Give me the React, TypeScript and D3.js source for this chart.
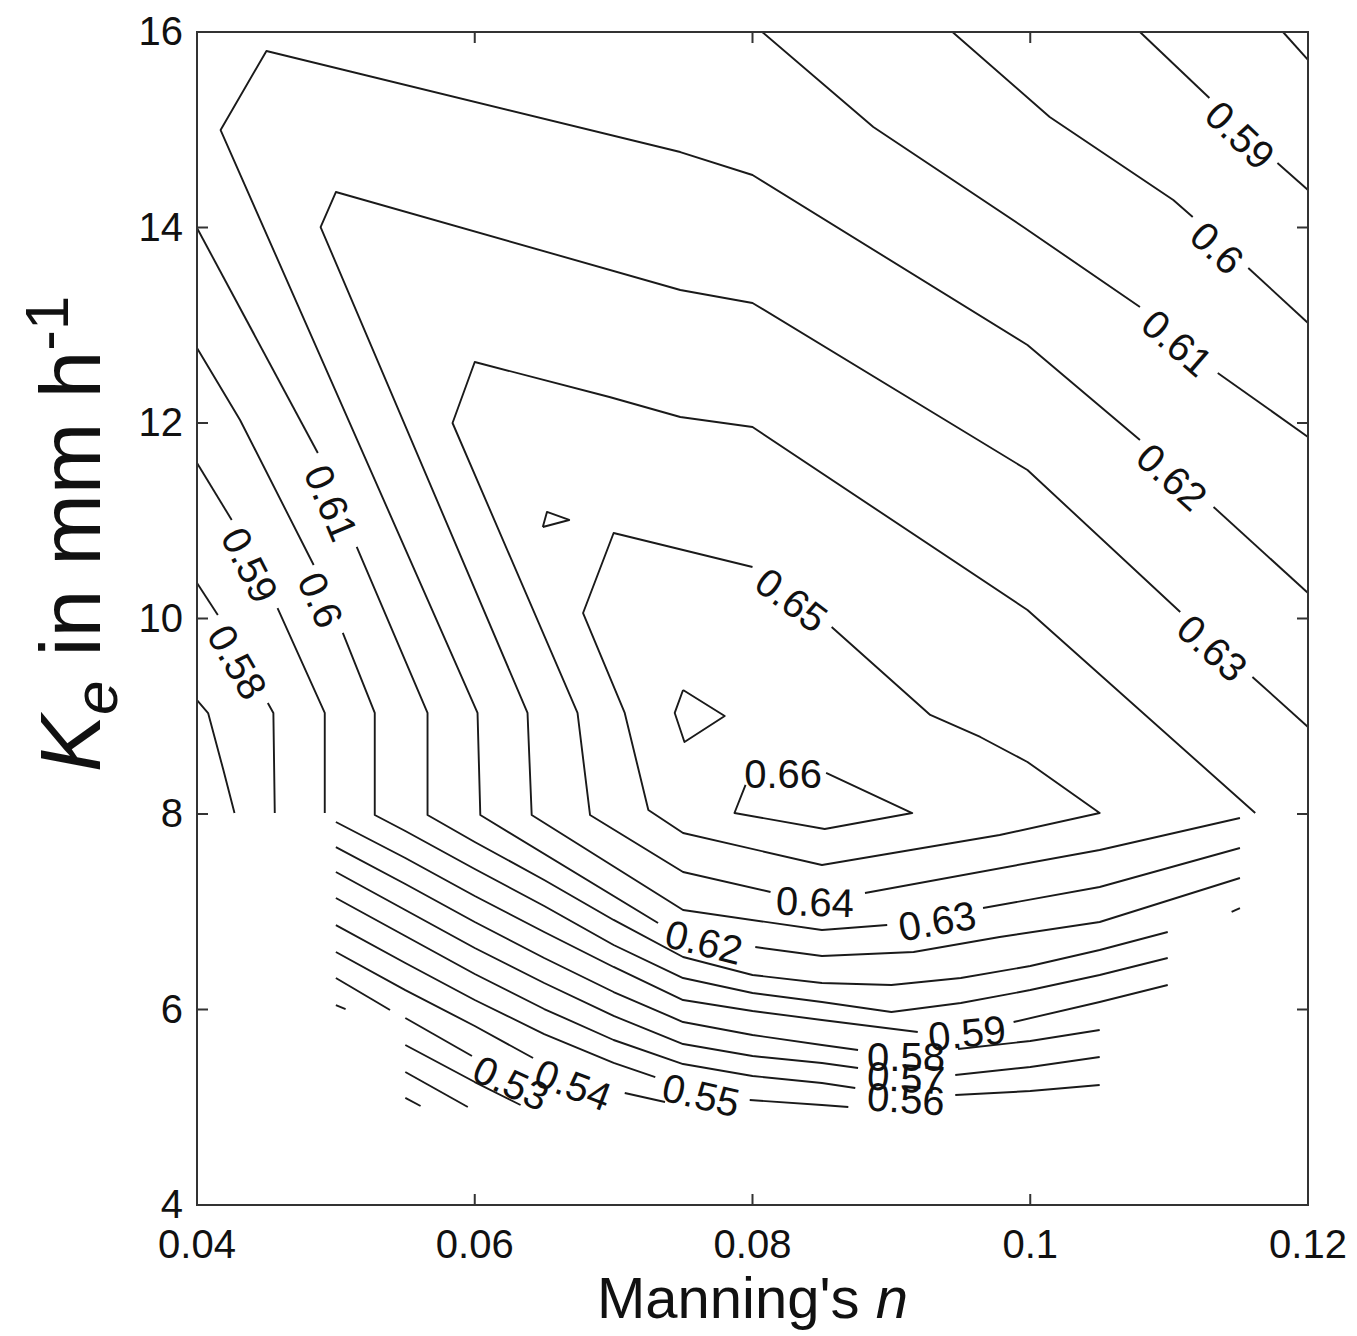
import React from "react";
import * as d3 from "d3";

type Pt = [number, number];

// axis ticks
const xTicks = [0.04, 0.06, 0.08, 0.1, 0.12];
const xTickLabels = ["0.04", "0.06", "0.08", "0.1", "0.12"];
const yTicks = [4, 6, 8, 10, 12, 14, 16];
const yTickLabels = ["4", "6", "8", "10", "12", "14", "16"];

// contour pieces per level: [Manning's n, Ke]
const c050: Pt[][] = [[[0.055, 5.095], [0.0561, 5.013]]];
const c051: Pt[][] = [[[0.055, 5.361], [0.0595, 5.003]]];
const c052: Pt[][] = [
  [[0.05, 6.046], [0.0507, 6.005]],
  [[0.055, 5.637], [0.06, 5.258], [0.0633, 5.023]],
];
const c053: Pt[][] = [
  [[0.05, 6.322], [0.0539, 5.995]],
  [[0.055, 5.913], [0.0598, 5.524]],
];
const c054: Pt[][] = [
  [[0.05, 6.588], [0.055, 6.199], [0.06, 5.831], [0.0642, 5.504]],
  [[0.0708, 5.146], [0.0737, 5.054]],
];
const c055: Pt[][] = [
  [[0.05, 6.864], [0.055, 6.476], [0.06, 6.097], [0.065, 5.749], [0.07, 5.453], [0.073, 5.309]],
  [[0.0798, 5.074], [0.085, 5.023], [0.0869, 5.003]],
];
const c056: Pt[][] = [
  [[0.05, 7.141], [0.055, 6.752], [0.06, 6.363], [0.065, 6.005], [0.07, 5.688], [0.075, 5.442], [0.08, 5.32], [0.085, 5.248], [0.0874, 5.197]],
  [[0.0946, 5.125], [0.1, 5.166], [0.105, 5.228]],
];
const c057: Pt[][] = [
  [[0.04, 9.166], [0.0408, 9.033], [0.0419, 8.45], [0.0427, 8.01]],
  [[0.05, 7.407], [0.055, 7.018], [0.06, 6.629], [0.065, 6.271], [0.07, 5.934], [0.075, 5.647], [0.08, 5.524], [0.085, 5.453], [0.0876, 5.402]],
  [[0.0946, 5.33], [0.1, 5.412], [0.105, 5.514]],
];
const c058: Pt[][] = [
  [[0.04, 10.363], [0.0415, 10.036]],
  [[0.0451, 9.136], [0.0455, 9.033], [0.0456, 8.01]],
  [[0.1182, 16], [0.12, 15.714]],
  [[0.05, 7.662], [0.055, 7.284], [0.06, 6.895], [0.065, 6.527], [0.07, 6.179], [0.075, 5.872], [0.08, 5.739], [0.085, 5.637], [0.0876, 5.586]],
  [[0.0948, 5.596], [0.1, 5.678], [0.105, 5.79]],
];
const c059: Pt[][] = [
  [[0.04, 11.591], [0.0425, 11.008]],
  [[0.0458, 10.107], [0.0492, 9.034], [0.0492, 8.01]],
  [[0.1079, 16], [0.1129, 15.325]],
  [[0.1178, 14.66], [0.12, 14.384]],
  [[0.05, 7.918], [0.055, 7.55], [0.06, 7.161], [0.065, 6.793], [0.07, 6.435], [0.075, 6.097], [0.08, 5.985], [0.085, 5.893], [0.0919, 5.77]],
  [[0.0988, 5.872], [0.105, 6.077], [0.1099, 6.251]],
];
const c060: Pt[][] = [
  [[0.04, 12.767], [0.0431, 12.031], [0.0484, 10.547]],
  [[0.0505, 9.852], [0.0528, 9.034], [0.0528, 7.99], [0.055, 7.826], [0.06, 7.437], [0.065, 7.059], [0.07, 6.66], [0.075, 6.322], [0.08, 6.169], [0.085, 6.077], [0.09, 5.974], [0.095, 6.066], [0.1, 6.199], [0.105, 6.353], [0.1099, 6.527]],
  [[0.0944, 16], [0.1014, 15.13], [0.1103, 14.281], [0.1117, 14.107]],
  [[0.1157, 13.586], [0.12, 13.023]],
];
const c061: Pt[][] = [
  [[0.04, 13.995], [0.0487, 11.693]],
  [[0.0515, 10.732], [0.0566, 9.034], [0.0566, 7.99], [0.06, 7.714], [0.065, 7.325], [0.07, 6.916], [0.075, 6.537], [0.08, 6.353], [0.085, 6.271], [0.09, 6.251], [0.095, 6.322], [0.1, 6.445], [0.105, 6.609], [0.1099, 6.793]],
  [[0.0807, 16], [0.0887, 15.028], [0.0995, 14.005], [0.1079, 13.187]],
  [[0.1135, 12.512], [0.12, 11.857]],
  [[0.1145, 6.998], [0.1151, 7.038]],
];
const c062: Pt[][] = [
  [[0.12, 10.261], [0.1132, 11.141]],
  [[0.1079, 11.826], [0.0998, 12.798], [0.08, 14.537], [0.0748, 14.772], [0.045, 15.806], [0.0417, 14.997], [0.0602, 9.034], [0.0604, 7.99], [0.0732, 6.885]],
  [[0.0802, 6.639], [0.085, 6.547], [0.0916, 6.588], [0.0978, 6.742], [0.105, 6.895], [0.1151, 7.345]],
];
const c063: Pt[][] = [
  [[0.12, 8.89], [0.116, 9.402]],
  [[0.1108, 10.067], [0.0998, 11.519], [0.08, 13.228], [0.0748, 13.361], [0.05, 14.363], [0.0489, 14.005], [0.0638, 9.034], [0.0641, 7.99], [0.075, 7.018], [0.085, 6.813], [0.0897, 6.864]],
  [[0.0966, 7.038], [0.105, 7.253], [0.1151, 7.652]],
];
const c064: Pt[][] = [
  [[0.1162, 8.01], [0.0998, 10.087], [0.08, 11.959], [0.0748, 12.061], [0.0697, 12.266], [0.06, 12.624], [0.0584, 12.0], [0.0674, 9.034], [0.0683, 7.99], [0.075, 7.407], [0.0813, 7.202]],
  [[0.0881, 7.192], [0.105, 7.632], [0.1151, 7.959]],
];
const c065: Pt[][] = [
  [[0.0857, 9.913], [0.0928, 9.013], [0.0964, 8.788], [0.0998, 8.532], [0.105, 8.01], [0.0978, 7.785], [0.085, 7.478], [0.075, 7.806], [0.0725, 8.041], [0.0708, 9.034], [0.0678, 10.056], [0.07, 10.875], [0.08, 10.527]],
  [[0.0649, 10.936], [0.0652, 11.09], [0.0668, 11.008], [0.0649, 10.936]],
];
const c066: Pt[][] = [
  [[0.0853, 8.42], [0.0915, 8.01], [0.0852, 7.847], [0.0787, 8.01], [0.0795, 8.297]],
  [[0.075, 9.269], [0.078, 9.003], [0.0751, 8.737], [0.0744, 9.034], [0.075, 9.269]],
];

const levelPieces: Pt[][][] = [
  c050, c051, c052, c053, c054, c055, c056, c057, c058, c059, c060, c061, c062, c063, c064, c065, c066,
];

// inline contour labels
const labelText = [
  "0.58", "0.59", "0.6", "0.61", "0.65", "0.66", "0.63", "0.62", "0.61", "0.6", "0.59",
  "0.64", "0.63", "0.62", "0.59", "0.58", "0.57", "0.56", "0.55", "0.54", "0.53",
];
const labelAt: Pt[] = [
  [0.0429, 9.555], [0.0438, 10.547], [0.0489, 10.19], [0.04965, 11.182], [0.0828, 10.189],
  [0.0822, 8.409], [0.1131, 9.698], [0.1102, 11.448], [0.11057, 12.818], [0.11345, 13.79],
  [0.1151, 14.946], [0.0845, 7.1], [0.0933, 6.905], [0.0765, 6.69], [0.09545, 5.76],
  [0.09105, 5.514], [0.09105, 5.3], [0.09105, 5.085], [0.07629, 5.125], [0.06708, 5.228],
  [0.06261, 5.248],
];
const labelAngle = [60, 63, 66, 67, 37, 0, 42, 42, 41, 43, 44, 2, -10, 14, -6, 0, 4, 4, 13, 21, 25];

const FONT = "'Liberation Sans', Arial, Helvetica, sans-serif";

export default function App() {
  const W = 1357;
  const H = 1336;
  const x = d3.scaleLinear().domain([0.04, 0.12]).range([197, 1308]);
  const y = d3.scaleLinear().domain([4, 16]).range([1205, 32]);
  const line = d3
    .line<Pt>()
    .x((d) => x(d[0]))
    .y((d) => y(d[1]));
  const tickLen = 11;
  const x0 = x.range()[0];
  const x1 = x.range()[1];
  const y0 = y.range()[1];
  const y1 = y.range()[0];

  return (
    <svg
      width={W}
      height={H}
      viewBox={`0 0 ${W} ${H}`}
      style={{ position: "absolute", left: 0, top: 0, background: "#fff" }}
      fontFamily={FONT}
    >
      <rect x={0} y={0} width={W} height={H} fill="#fff" />
      {/* contour lines */}
      <g fill="none" stroke="#1a1a1a" strokeWidth={1.9} strokeLinejoin="round">
        {levelPieces.map((pieces, i) =>
          pieces.map((p, j) => <path key={`${i}-${j}`} d={line(p) || ""} />)
        )}
      </g>
      {/* contour labels */}
      <g fontSize={40} fill="#111">
        {labelText.map((t, i) => (
          <text
            key={i}
            transform={`translate(${x(labelAt[i][0])},${y(labelAt[i][1])}) rotate(${labelAngle[i]})`}
            textAnchor="middle"
            dominantBaseline="central"
          >
            {t}
          </text>
        ))}
      </g>
      {/* box */}
      <rect x={x0} y={y0} width={x1 - x0} height={y1 - y0} fill="none" stroke="#333" strokeWidth={2} />
      {/* ticks */}
      <g stroke="#333" strokeWidth={2}>
        {xTicks.map((t, i) => (
          <g key={`xt${i}`}>
            <line x1={x(t)} x2={x(t)} y1={y1} y2={y1 - tickLen} />
            <line x1={x(t)} x2={x(t)} y1={y0} y2={y0 + tickLen} />
          </g>
        ))}
        {yTicks.map((t, i) => (
          <g key={`yt${i}`}>
            <line x1={x0} x2={x0 + tickLen} y1={y(t)} y2={y(t)} />
            <line x1={x1} x2={x1 - tickLen} y1={y(t)} y2={y(t)} />
          </g>
        ))}
      </g>
      <g fontSize={40} fill="#111">
        {xTicks.map((t, i) => (
          <text key={`xl${i}`} x={x(t)} y={y1 + 53} textAnchor="middle">
            {xTickLabels[i]}
          </text>
        ))}
        {yTicks.map((t, i) => (
          <text key={`yl${i}`} x={x0 - 14} y={y(t) + 13} textAnchor="end">
            {yTickLabels[i]}
          </text>
        ))}
      </g>
      {/* axis labels */}
      <text x={(x0 + x1) / 2} y={1318} textAnchor="middle" fontSize={58} fill="#111">
        Manning's <tspan fontStyle="italic">n</tspan>
      </text>
      <text
        transform={`translate(100,${534}) rotate(-90)`}
        textAnchor="middle"
        fontSize={86}
        fill="#111"
      >
        <tspan fontStyle="italic">K</tspan>
        <tspan fontStyle="italic" fontSize={62} dy={17}>e</tspan>
        <tspan dy={-17}> in mm h</tspan>
        <tspan fontSize={62} dy={-32}>-1</tspan>
      </text>
    </svg>
  );
}
